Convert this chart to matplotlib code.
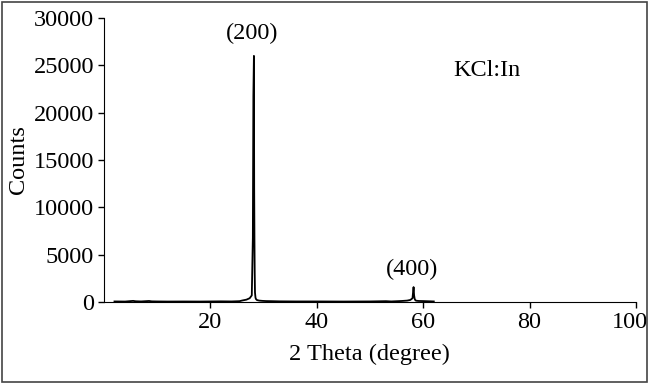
import matplotlib
matplotlib.use("Agg")
import matplotlib.pyplot as plt
import matplotlib.transforms as mtransforms
from matplotlib.patches import Rectangle

# XRD pattern of KCl:In
two_theta = [2.0, 4.0, 5.5, 6.0, 7.0, 8.5, 9.0, 10.0, 12.0, 15.0, 18.0, 20.0, 22.0,
             24.0, 25.5, 26.0, 26.8, 27.4, 27.8, 28.0, 28.1, 28.2, 28.25, 28.3,
             28.35, 28.4, 28.5, 28.6, 28.8, 29.2, 29.8, 30.5, 31.5, 33.0, 36.0,
             40.0, 45.0, 50.0, 53.0, 54.0, 56.0, 57.0, 57.6, 58.0, 58.2, 58.3,
             58.4, 58.5, 58.6, 58.8, 59.2, 60.0, 61.0, 62.0]
counts = [60, 50, 120, 80, 60, 110, 70, 60, 50, 55, 50, 60, 70,
          60, 90, 160, 250, 400, 700, 6800, 21800, 26000, 12000, 6600,
          3000, 1000, 450, 300, 200, 150, 120, 100, 90, 70, 60,
          60, 50, 60, 90, 60, 110, 150, 220, 400, 1580, 700,
          350, 220, 160, 130, 110, 100, 80, 60]

peak_labels = ["(200)", "(400)"]
peak_pos = [(28.3, 27300), (58.4, 2300)]
sample = "KCl:In"

plt.rcParams["font.family"] = ["Liberation Serif", "DejaVu Serif"]
plt.rcParams["font.size"] = 17.5

fig = plt.figure(figsize=(6.49, 3.84), dpi=100)
ax = fig.add_axes([0.160, 0.2135, 0.820, 0.7395])
ax.plot(two_theta, counts, color="black", lw=1.3)

ax.set_xlim(0, 100)
ax.set_ylim(0, 30000)
ax.set_xticks([20, 40, 60, 80, 100])
ax.set_yticks(range(0, 30001, 5000))
ax.tick_params(direction="out", length=4, width=1, pad=3)
for s in ["top", "right"]:
    ax.spines[s].set_visible(False)
ax.set_xlabel("2 Theta (degree)", labelpad=8)
ax.set_ylabel("Counts", labelpad=3)

# nudge the last tick label so it stays inside the frame
last = ax.get_xticklabels()[-1]
last.set_transform(last.get_transform() + mtransforms.ScaledTranslation(-6 / 100, 0, fig.dpi_scale_trans))

for lab, (x, y) in zip(peak_labels, peak_pos):
    ax.text(x - 0.5, y, lab, ha="center", va="bottom")
ax.text(72, 24500, sample, ha="center", va="center")

fig.patches.append(Rectangle((0.003, 0.004), 0.994, 0.992, transform=fig.transFigure,
                             fill=False, edgecolor="#444444", lw=1.2))
fig.savefig("out.png", dpi=100)
